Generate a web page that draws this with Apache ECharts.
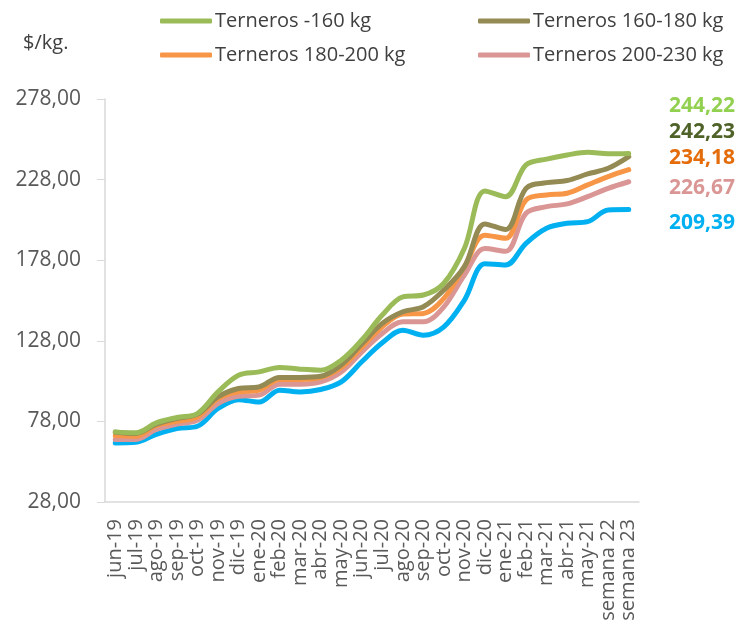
<!DOCTYPE html>
<html>
<head>
<meta charset="utf-8">
<script src="https://cdn.jsdelivr.net/npm/echarts@6/dist/echarts.min.js"></script>
<style>
  html, body { margin: 0; padding: 0; background: #fff; }
  #chart { width: 738px; height: 637px; }
</style>
</head>
<body>
<div id="chart"></div>
<script>
// categories (x axis)
const months = [
  "jun-19", "jul-19", "ago-19", "sep-19", "oct-19", "nov-19", "dic-19",
  "ene-20", "feb-20", "mar-20", "abr-20", "may-20", "jun-20", "jul-20",
  "ago-20", "sep-20", "oct-20", "nov-20", "dic-20", "ene-21", "feb-21",
  "mar-21", "abr-21", "may-21", "semana 22", "semana 23"
];

// $/kg. por categoría
const terneros160 = [71.5, 70.9, 77.1, 80.4, 82.9, 96.3, 106.7, 108.7, 111.5, 110.4, 109.8, 116.0, 128.5, 144.0, 155.3, 156.4, 163.7, 185.4, 221.0, 217.4, 237.1, 240.7, 243.3, 245.0, 244.0, 244.22];
const terneros160_180 = [71.3, 70.5, 76.3, 79.8, 82.5, 93.2, 98.4, 99.4, 105.3, 105.3, 106.0, 113.0, 126.0, 138.8, 146.0, 149.1, 159.5, 174.0, 200.5, 197.0, 222.6, 226.1, 227.4, 231.5, 235.0, 242.23];
const terneros180_200 = [69.2, 68.8, 75.5, 78.1, 80.8, 92.2, 96.3, 97.4, 104.0, 104.0, 105.3, 111.5, 124.0, 136.7, 144.6, 145.0, 154.3, 174.0, 193.5, 191.6, 215.4, 218.5, 219.5, 224.7, 229.9, 234.18];
const terneros200_230 = [66.8, 66.8, 73.0, 76.3, 78.7, 89.1, 93.6, 94.3, 101.1, 101.1, 102.5, 108.7, 121.0, 132.6, 139.8, 139.8, 149.1, 168.8, 185.2, 183.5, 207.1, 211.2, 212.9, 217.4, 222.6, 226.67];
const ternerosAzul = [64.6, 65.0, 70.0, 73.6, 75.0, 86.0, 91.5, 90.0, 97.4, 96.3, 97.8, 102.5, 115.0, 126.8, 134.6, 131.5, 136.7, 153.3, 175.8, 175.0, 188.5, 197.8, 200.9, 201.9, 209.2, 209.39];

const names = ["Terneros -160 kg", "Terneros 160-180 kg", "Terneros 180-200 kg", "Terneros 200-230 kg", "Terneros azul"];
const lineColors = ["#9BBB59", "#948A54", "#F79646", "#DA9694", "#00B0F0"];
const labelColors = ["#92D050", "#4F6228", "#E46C0A", "#DA9694", "#00B0F0"];
const allData = [terneros160, terneros160_180, terneros180_200, terneros200_230, ternerosAzul];

const fmt = (v) => v.toFixed(2).replace(".", ",");
const FONT = "'Open Sans', 'Noto Sans', sans-serif";

const chart = echarts.init(document.getElementById("chart"));

// one legend per item so they sit in a 2x2 layout
const legendPos = [
  { left: 155, top: 6 },
  { left: 473, top: 6 },
  { left: 155, top: 40 },
  { left: 473, top: 40 }
];
const legends = legendPos.map((p, i) => ({
  data: [names[i]],
  left: p.left,
  top: p.top,
  icon: "roundRect",
  itemWidth: 52,
  itemHeight: 5,
  itemGap: 4,
  selectedMode: false,
  textStyle: { fontFamily: FONT, fontSize: 20, color: "#404040", padding: [0, 0, 0, -2] }
}));

const labelY = [110, 136, 162, 192, 227];
const valueLabels = allData.map((d, i) => ({
  type: "text",
  right: 3,
  top: labelY[i] - 14,
  style: {
    text: fmt(d[d.length - 1]),
    fill: labelColors[i],
    font: "bold 21px " + FONT
  }
}));

chart.setOption({
  animation: false,
  title: {
    text: "$/kg.",
    left: 18,
    top: 28,
    textStyle: { fontFamily: FONT, fontSize: 20, fontWeight: "normal", color: "#404040" }
  },
  legend: legends,
  graphic: valueLabels,
  grid: { left: 105, right: 99, top: 99, bottom: 135, containLabel: false },
  xAxis: {
    type: "category",
    data: months,
    boundaryGap: true,
    axisLine: { lineStyle: { color: "#D9D9D9", width: 1.5 } },
    axisTick: { inside: true, length: 8, lineStyle: { color: "#D9D9D9" } },
    axisLabel: {
      interval: 0,
      rotate: 90,
      margin: 17,
      fontFamily: FONT,
      fontSize: 20,
      color: "#595959"
    }
  },
  yAxis: {
    type: "value",
    min: 28,
    max: 278,
    interval: 50,
    splitLine: { show: false },
    axisLine: { show: true, lineStyle: { color: "#D9D9D9", width: 1.5 } },
    axisTick: { show: true, length: 8, lineStyle: { color: "#D9D9D9" } },
    axisLabel: {
      margin: 24,
      fontFamily: FONT,
      fontSize: 21,
      color: "#595959",
      formatter: fmt
    }
  },
  series: allData.map((d, i) => ({
    name: names[i],
    type: "line",
    data: d,
    smooth: 0.35,
    showSymbol: false,
    symbol: "none",
    z: 10 - i,
    itemStyle: { color: lineColors[i] },
    lineStyle: { width: 5, color: lineColors[i], cap: "round" }
  }))
});
</script>
</body>
</html>
